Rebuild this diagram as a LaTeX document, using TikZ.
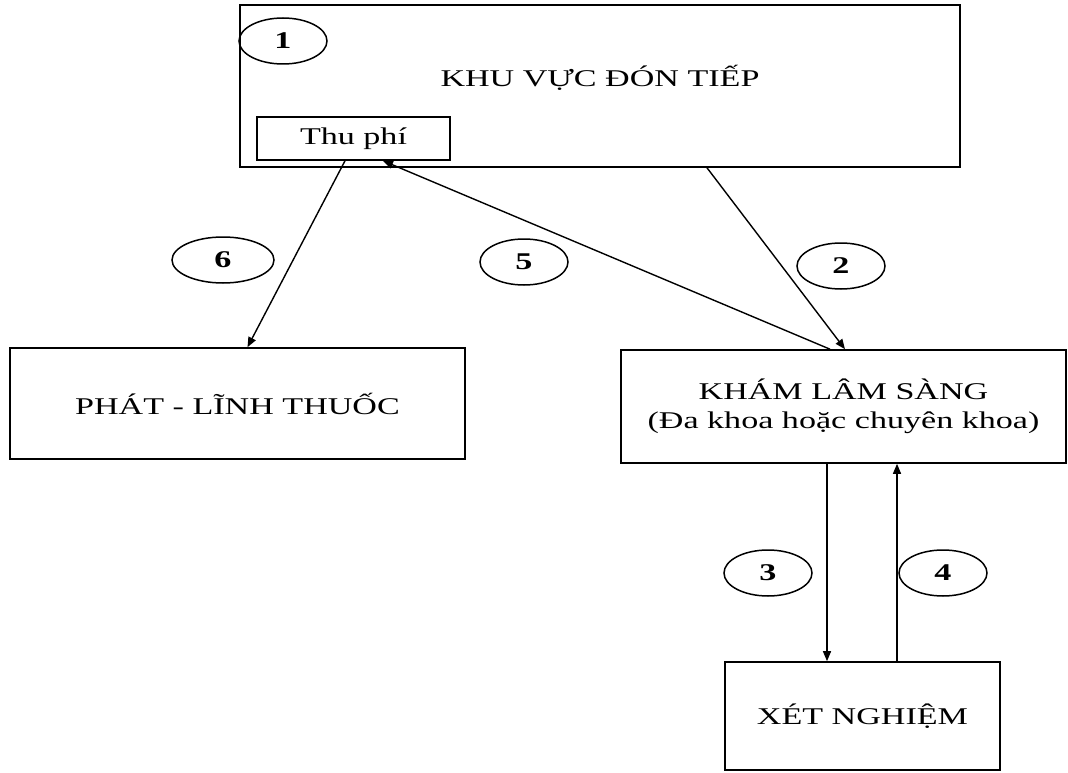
\documentclass[tikz,border=0pt]{standalone}
\usepackage{fontspec}
\setmainfont{Liberation Serif}[FakeStretch=1.42]
\usetikzlibrary{shapes.geometric,arrows.meta}
\tikzset{
    areabox/.style={draw, line width=1.6pt, inner sep=0pt},
    areatext/.style={font=\fontsize{24}{29}\selectfont, align=center},
    stepnum/.style={draw, ellipse, line width=1.5pt, minimum width=88pt, minimum height=46pt, inner sep=0pt, font=\fontsize{24}{29}\selectfont\bfseries},
    flowarrow/.style={line width=1.4pt, -{Triangle[length=10pt,width=8pt]}}
}

\begin{document}
\begin{tikzpicture}[x=1pt,y=-1pt]
    \useasboundingbox (0,0) rectangle (1068,773);

    % Reception area with the fee counter
    \node[areabox, minimum width=720pt, minimum height=162pt] (reception) at (600,86) {};
    \node[areatext] (receptiontitle) at (600,78) {KHU VỰC ĐÓN TIẾP};
    \node[areabox, areatext, minimum width=193pt, minimum height=43pt] (fee) at (353.5,138.5) {Thu phí};
    \node[stepnum] (n1) at (283,41) {1};

    % Lower areas
    \node[areabox, areatext, minimum width=455pt, minimum height=111pt] (pharmacy) at (237.5,403.5) {PHÁT - LĨNH THUỐC};
    \node[areabox, areatext, minimum width=445pt, minimum height=113pt] (clinic) at (843.5,406.5) {KHÁM LÂM SÀNG\\(Đa khoa hoặc chuyên khoa)};
    \node[areabox, areatext, minimum width=275pt, minimum height=108pt] (lab) at (862.5,716) {XÉT NGHIỆM};

    % Step numbers
    \node[stepnum, minimum width=102pt] (n6) at (223,260) {6};
    \node[stepnum] (n5) at (524,262) {5};
    \node[stepnum] (n2) at (841,266) {2};
    \node[stepnum] (n3) at (768,573) {3};
    \node[stepnum] (n4) at (943,573) {4};

    % Flow
    \coordinate (down) at (827,0);
    \coordinate (up) at (897,0);
    \draw[flowarrow] ([xshift=-8.5pt]fee.south) -- ([xshift=10pt]pharmacy.north);
    \draw[flowarrow] ([xshift=-13.5pt]clinic.north) -- ([xshift=29.5pt]fee.south);
    \draw[flowarrow] ([xshift=107pt]reception.south) -- ([xshift=1.5pt]clinic.north);
    \draw[flowarrow] (clinic.south -| down) -- (lab.north -| down);
    \draw[flowarrow] (lab.north -| up) -- (clinic.south -| up);
\end{tikzpicture}
\end{document}
